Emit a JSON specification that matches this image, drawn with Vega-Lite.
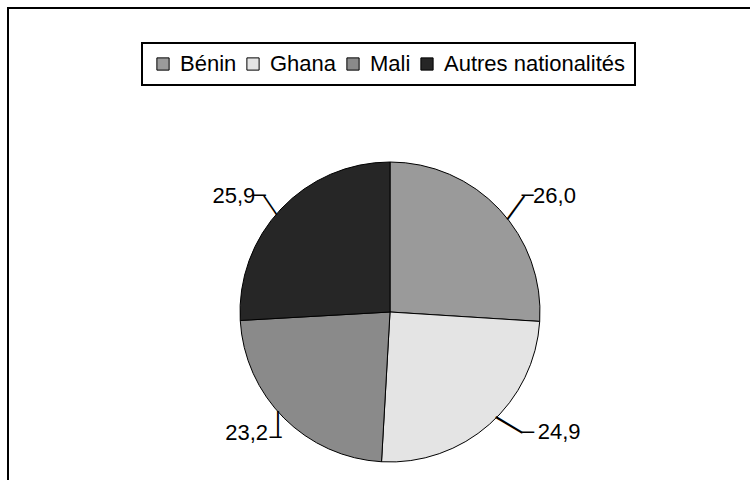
{
  "$schema": "https://vega.github.io/schema/vega-lite/v6.json",
  "width": 764,
  "height": 608,
  "autosize": {"type": "none"},
  "padding": {"left": 8, "top": 8, "right": 0, "bottom": 0},
  "background": "white",
  "config": {
    "view": {"stroke": null},
    "locale": {"number": {"decimal": ",", "thousands": " ", "grouping": [3], "currency": ["", " €"]}},
    "text": {"font": "Liberation Sans", "fontSize": 22, "color": "black"}
  },
  "data": {
    "values": [
      {"pays": "Bénin", "valeur": 26.0, "ordre": 1},
      {"pays": "Ghana", "valeur": 24.9, "ordre": 2},
      {"pays": "Mali", "valeur": 23.2, "ordre": 3},
      {"pays": "Autres nationalités", "valeur": 25.9, "ordre": 4}
    ]
  },
  "layer": [
    {
      "data": {"values": [{}]},
      "mark": {"type": "rect", "fillOpacity": 0, "stroke": "black", "strokeWidth": 2},
      "encoding": {}
    },
    {
      "encoding": {
        "theta": {"field": "valeur", "type": "quantitative", "stack": true},
        "order": {"field": "ordre", "type": "quantitative"}
      },
      "layer": [
        {
          "mark": {"type": "arc", "radius": 150, "stroke": "black", "strokeWidth": 1},
          "encoding": {
            "color": {
              "field": "pays",
              "type": "nominal",
              "scale": {
                "domain": ["Bénin", "Ghana", "Mali", "Autres nationalités"],
                "range": ["#9a9a9a", "#e4e4e4", "#8a8a8a", "#262626"]
              },
              "legend": {
                "title": null,
                "orient": "none",
                "legendX": 134,
                "legendY": 35,
                "direction": "horizontal",
                "padding": 10,
                "strokeColor": "black",
                "fillColor": "white",
                "symbolType": "square",
                "symbolSize": 150,
                "symbolStrokeColor": "black",
                "symbolStrokeWidth": 1,
                "symbolOpacity": 1,
                "labelFont": "Liberation Sans",
                "labelFontSize": 22,
                "labelColor": "black",
                "labelOffset": 6,
                "columnPadding": 5,
                "labelLimit": 400,
                "encode": {"legend": {"update": {"strokeWidth": {"value": 2}}}}
              }
            }
          }
        },
        {
          "mark": {"type": "text", "radius": 190, "dx": 26, "dy": 14},
          "encoding": {"text": {"condition": {"test": "datum.pays === 'Bénin'", "field": "valeur", "type": "quantitative", "format": ".1f"}, "value": ""}}
        },
        {
          "mark": {"type": "text", "radius": 190, "dx": -1, "dy": 12},
          "encoding": {"text": {"condition": {"test": "datum.pays === 'Bénin'", "value": "–"}, "value": ""}}
        },
        {
          "mark": {"type": "text", "radius": 190, "dx": -28.3, "dy": 3.3, "angle": -54, "fontSize": 29},
          "encoding": {"text": {"condition": {"test": "datum.pays === 'Bénin'", "value": "—"}, "value": ""}}
        },
        {
          "mark": {"type": "text", "radius": 190, "dx": 43, "dy": -22},
          "encoding": {"text": {"condition": {"test": "datum.pays === 'Ghana'", "field": "valeur", "type": "quantitative", "format": ".1f"}, "value": ""}}
        },
        {
          "mark": {"type": "text", "radius": 190, "dx": 12, "dy": -23},
          "encoding": {"text": {"condition": {"test": "datum.pays === 'Ghana'", "value": "–"}, "value": ""}}
        },
        {
          "mark": {"type": "text", "radius": 190, "dx": -20.9, "dy": -22.5, "angle": 31, "fontSize": 31},
          "encoding": {"text": {"condition": {"test": "datum.pays === 'Ghana'", "value": "—"}, "value": ""}}
        },
        {
          "mark": {"type": "text", "radius": 190, "dx": -9, "dy": -13},
          "encoding": {"text": {"condition": {"test": "datum.pays === 'Mali'", "field": "valeur", "type": "quantitative", "format": ".1f"}, "value": ""}}
        },
        {
          "mark": {"type": "text", "radius": 190, "dx": 20, "dy": -10},
          "encoding": {"text": {"condition": {"test": "datum.pays === 'Mali'", "value": "–"}, "value": ""}}
        },
        {
          "mark": {"type": "text", "radius": 190, "dx": -21.9, "dy": -23.4, "angle": 90, "fontSize": 27},
          "encoding": {"text": {"condition": {"test": "datum.pays === 'Mali'", "value": "—"}, "value": ""}}
        },
        {
          "mark": {"type": "text", "radius": 190, "dx": -18, "dy": 14},
          "encoding": {"text": {"condition": {"test": "datum.pays === 'Autres nationalités'", "field": "valeur", "type": "quantitative", "format": ".1f"}, "value": ""}}
        },
        {
          "mark": {"type": "text", "radius": 190, "dx": 8, "dy": 12},
          "encoding": {"text": {"condition": {"test": "datum.pays === 'Autres nationalités'", "value": "–"}, "value": ""}}
        },
        {
          "mark": {"type": "text", "radius": 190, "dx": 29.9, "dy": -3.2, "angle": 56, "fontSize": 23},
          "encoding": {"text": {"condition": {"test": "datum.pays === 'Autres nationalités'", "value": "—"}, "value": ""}}
        }
      ]
    }
  ]
}
